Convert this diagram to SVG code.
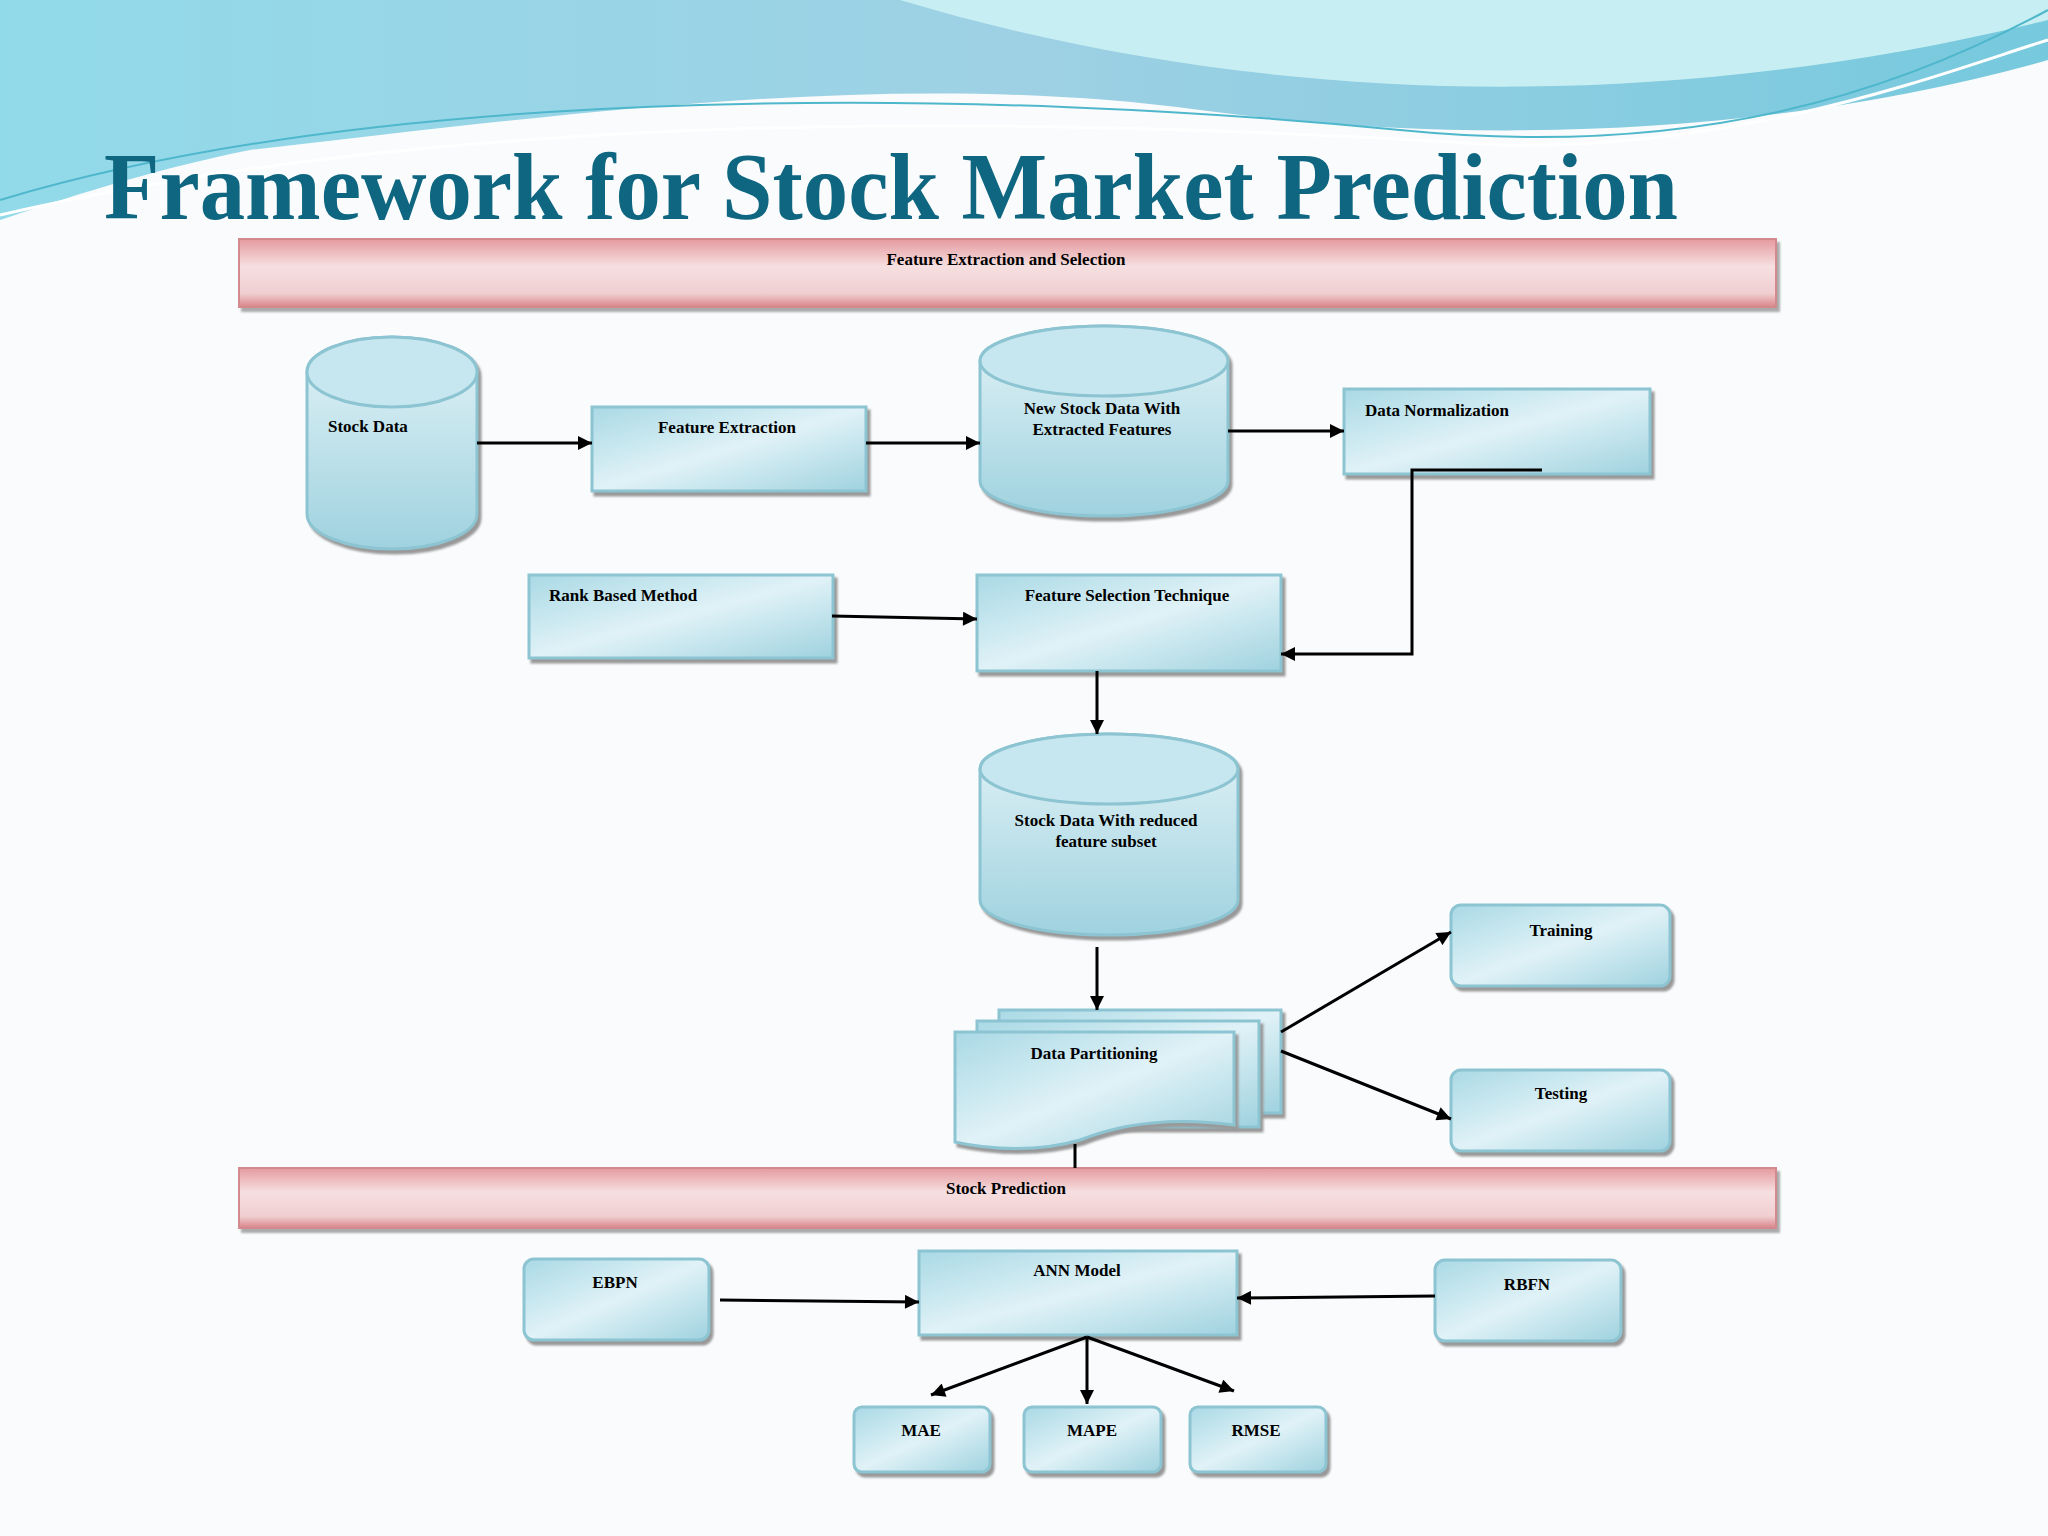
<svg xmlns="http://www.w3.org/2000/svg" width="2048" height="1536" viewBox="0 0 2048 1536">
<defs>
<linearGradient id="bx" x1="0" y1="0" x2="1" y2="1"><stop offset="0" stop-color="#a9d9e5"/><stop offset="0.5" stop-color="#e0f2f7"/><stop offset="1" stop-color="#9fd2df"/></linearGradient>
<linearGradient id="cy" x1="0" y1="0" x2="0" y2="1"><stop offset="0" stop-color="#e3f3f7"/><stop offset="1" stop-color="#9fd2df"/></linearGradient>
<linearGradient id="bn" x1="0" y1="0" x2="0" y2="1"><stop offset="0" stop-color="#e59a9f"/><stop offset="0.4" stop-color="#f6dfe0"/><stop offset="0.8" stop-color="#f0cfd1"/><stop offset="1" stop-color="#d98489"/></linearGradient>
<linearGradient id="sky" x1="0" y1="0" x2="1" y2="0"><stop offset="0" stop-color="#7fd4e6"/><stop offset="0.5" stop-color="#8ec9e0"/><stop offset="1" stop-color="#5fc0d8"/></linearGradient>
<marker id="ar" viewBox="0 0 10 10" refX="10" refY="5" markerWidth="15" markerHeight="14" markerUnits="userSpaceOnUse" orient="auto"><path d="M0,0 L10,5 L0,10 z" fill="#000"/></marker>
<style>
.b{fill:url(#bx);stroke:#8cc4d2;stroke-width:3;filter:drop-shadow(3px 4px 1px #999)}
.c{fill:url(#cy);stroke:#8cc4d2;stroke-width:3}
.t{font-family:"Liberation Serif",serif;font-weight:bold;font-size:17px;fill:#000}
.m{text-anchor:middle}
.ln{stroke:#000;stroke-width:3;fill:none}
.ln2{stroke:#000;stroke-width:3;fill:none;marker-end:url(#ar)}
</style>
</defs>
<rect width="2048" height="1536" fill="#fafbfc"/>
<g id="wave">
<path d="M0,0 H2048 V60 C1800,130 1500,150 1200,110 C900,70 600,110 250,150 C150,170 60,200 0,220 Z" fill="url(#sky)" opacity="0.85"/>
<path d="M900,0 C1200,90 1600,130 2048,20 V0 Z" fill="#c7eef2"/>
<path d="M0,200 C400,80 1000,90 1400,130 C1700,160 1900,90 2048,10" stroke="#4fb7cc" stroke-width="2" fill="none"/>
<path d="M0,215 C500,100 1100,120 1500,145 C1750,150 1950,70 2048,40" stroke="#ffffff" stroke-width="3" fill="none"/>
</g>
<text x="104" y="219" font-family="Liberation Serif,serif" font-weight="bold" font-size="96" fill="#0e6680" textLength="1574" lengthAdjust="spacingAndGlyphs">Framework for Stock Market Prediction</text>
<g id="banner1"><rect x="239" y="239" width="1537" height="68" fill="url(#bn)" stroke="#d38a8e" stroke-width="2" style="filter:drop-shadow(3px 4px 1px #aaa)"/><text class="t m" x="1006" y="265">Feature Extraction and Selection</text></g>
<g id="stockdata"><path class="c" d="M307,372 A85,35 0 0 1 477,372 V514 A85,35 0 0 1 307,514 Z" style="filter:drop-shadow(3px 4px 1px #999)"/><ellipse cx="392" cy="372" rx="85" ry="35" fill="#c6e7ef" stroke="#8cc4d2" stroke-width="3"/><text class="t" x="328" y="432">Stock Data</text></g>
<g id="featext"><rect class="b" x="592" y="407" width="274" height="84"/><text class="t m" x="727" y="433">Feature Extraction</text></g>
<g id="newstock"><path class="c" d="M980,361 A124,35 0 0 1 1228,361 V481 A124,35 0 0 1 980,481 Z" style="filter:drop-shadow(3px 4px 1px #999)"/><ellipse cx="1104" cy="361" rx="124" ry="35" fill="#c6e7ef" stroke="#8cc4d2" stroke-width="3"/><text class="t m" x="1102" y="414">New Stock Data With</text><text class="t m" x="1102" y="435">Extracted Features</text></g>
<g id="datanorm"><rect class="b" x="1344" y="389" width="306" height="85"/><text class="t" x="1365" y="416">Data Normalization</text></g>
<g id="rank"><rect class="b" x="529" y="575" width="304" height="83"/><text class="t" x="549" y="601">Rank Based Method</text></g>
<g id="fst"><rect class="b" x="977" y="575" width="304" height="96"/><text class="t m" x="1127" y="601">Feature Selection Technique</text></g>
<g id="reduced"><path class="c" d="M980,769 A129,35 0 0 1 1238,769 V900 A129,35 0 0 1 980,900 Z" style="filter:drop-shadow(3px 4px 1px #999)"/><ellipse cx="1109" cy="769" rx="129" ry="35" fill="#c6e7ef" stroke="#8cc4d2" stroke-width="3"/><text class="t m" x="1106" y="826">Stock Data With reduced</text><text class="t m" x="1106" y="847">feature subset</text></g>
<g id="partition">
<rect class="b" x="999" y="1010" width="282" height="103"/>
<rect class="b" x="977" y="1021" width="282" height="106"/>
<path class="b" d="M955,1032 H1234 V1125 C1160,1115 1110,1128 1080,1140 C1040,1152 990,1150 955,1142 Z"/>
<text class="t m" x="1094" y="1059">Data Partitioning</text></g>
<g id="training"><rect class="b" x="1451" y="905" width="219" height="81" rx="10"/><text class="t m" x="1561" y="936">Training</text></g>
<g id="testing"><rect class="b" x="1451" y="1070" width="219" height="81" rx="10"/><text class="t m" x="1561" y="1099">Testing</text></g>
<g id="banner2"><rect x="239" y="1168" width="1537" height="60" fill="url(#bn)" stroke="#d38a8e" stroke-width="2" style="filter:drop-shadow(3px 4px 1px #aaa)"/><text class="t m" x="1006" y="1194">Stock Prediction</text></g>
<g id="ebpn"><rect class="b" x="524" y="1259" width="185" height="81" rx="10"/><text class="t m" x="615" y="1288">EBPN</text></g>
<g id="ann"><rect class="b" x="919" y="1251" width="318" height="84"/><text class="t m" x="1077" y="1276">ANN Model</text></g>
<g id="rbfn"><rect class="b" x="1435" y="1260" width="186" height="81" rx="10"/><text class="t m" x="1527" y="1290">RBFN</text></g>
<g id="mae"><rect class="b" x="854" y="1407" width="136" height="65" rx="8"/><text class="t m" x="921" y="1436">MAE</text></g>
<g id="mape"><rect class="b" x="1024" y="1407" width="137" height="65" rx="8"/><text class="t m" x="1092" y="1436">MAPE</text></g>
<g id="rmse"><rect class="b" x="1190" y="1407" width="136" height="65" rx="8"/><text class="t m" x="1256" y="1436">RMSE</text></g>
<g id="connectors">
<line class="ln2" x1="477" y1="443" x2="592" y2="443"/>
<line class="ln2" x1="866" y1="443" x2="980" y2="443"/>
<line class="ln2" x1="1228" y1="431" x2="1344" y2="431"/>
<polyline class="ln2" points="1542,470 1412,470 1412,654 1281,654"/>
<line class="ln2" x1="832" y1="616" x2="977" y2="619"/>
<line class="ln2" x1="1097" y1="671" x2="1097" y2="734"/>
<line class="ln2" x1="1097" y1="947" x2="1097" y2="1010"/>
<line class="ln2" x1="1281" y1="1032" x2="1451" y2="932"/>
<line class="ln2" x1="1281" y1="1051" x2="1451" y2="1119"/>
<line class="ln" x1="1075" y1="1144" x2="1075" y2="1168"/>
<line class="ln2" x1="720" y1="1300" x2="919" y2="1302"/>
<line class="ln2" x1="1435" y1="1296" x2="1237" y2="1298"/>
<line class="ln2" x1="1087" y1="1337" x2="931" y2="1395"/>
<line class="ln2" x1="1087" y1="1337" x2="1087" y2="1404"/>
<line class="ln2" x1="1087" y1="1337" x2="1234" y2="1391"/>
</g>
</svg>
